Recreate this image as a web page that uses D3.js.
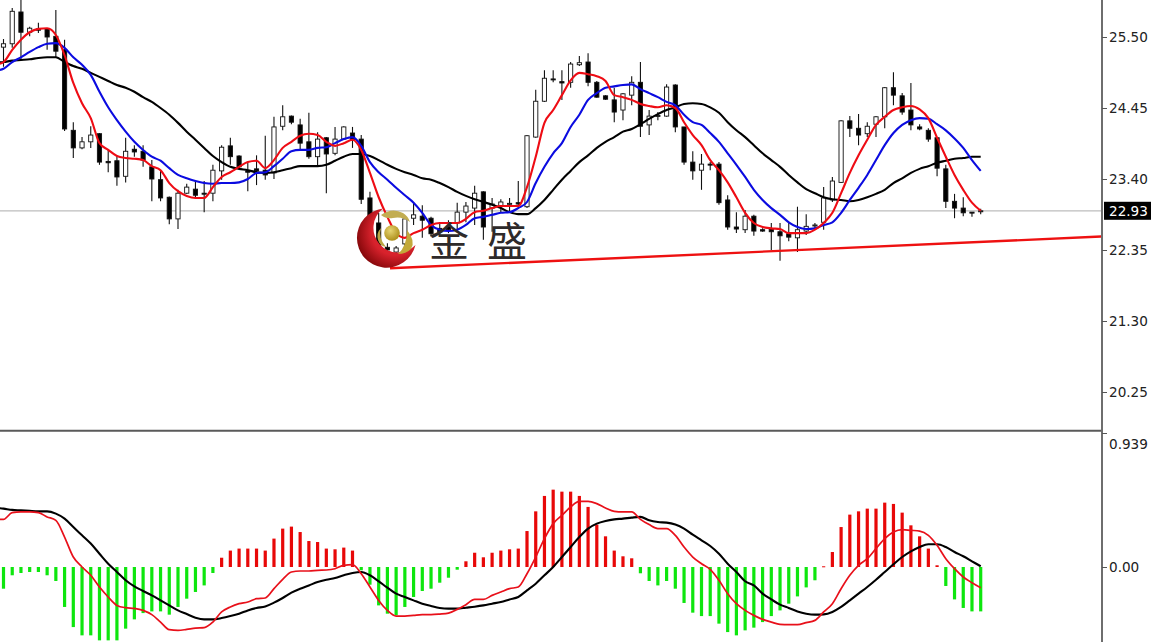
<!DOCTYPE html>
<html><head><meta charset="utf-8">
<style>html,body{margin:0;padding:0;background:#fff;overflow:hidden}svg{display:block}</style>
<script src="https://cdn.jsdelivr.net/npm/d3@7"></script></head>
<body><svg id="c" width="1151" height="642"></svg>
<script>
const opens=[25.35,25.40,25.87,25.57,25.62,25.62,25.51,25.31,24.12,23.86,23.95,24.07,23.66,23.67,23.44,23.84,23.81,23.58,23.39,23.13,22.81,23.19,23.25,23.19,23.19,23.52,23.89,23.74,23.52,23.55,23.53,23.49,24.18,24.33,24.20,23.95,23.73,24.01,23.78,23.99,24.08,23.99,23.12,22.75,22.39,22.32,22.44,22.82,22.85,22.82,22.67,22.70,22.75,22.91,22.97,23.21,22.97,23.00,23.03,23.05,22.99,24.02,24.55,24.88,24.84,24.83,25.09,25.13,24.83,24.63,24.57,24.42,24.64,24.83,24.20,24.34,24.33,24.79,24.17,23.65,23.53,23.62,23.62,23.09,22.69,22.65,22.85,22.65,22.66,22.62,22.59,22.53,22.63,22.71,22.76,23.09,23.35,24.26,24.15,24.07,24.21,24.32,24.75,24.63,24.42,24.17,24.12,24.01,23.55,23.07,22.97,22.91,22.93];
const closes=[25.40,25.88,25.57,25.63,25.60,25.50,25.29,24.14,23.86,23.95,24.05,23.65,23.64,23.43,23.81,23.80,23.68,23.40,23.12,22.81,23.19,23.28,23.16,23.18,23.53,23.87,23.73,23.58,23.50,23.52,23.46,24.17,24.32,24.24,23.93,23.73,23.99,23.77,23.99,24.17,23.98,23.10,22.67,22.41,22.35,22.38,22.81,22.87,22.79,22.59,22.62,22.65,22.91,23.00,23.19,22.69,23.03,23.06,23.04,23.03,24.04,24.55,24.89,24.87,24.82,25.10,25.12,24.83,24.61,24.58,24.39,24.66,24.83,24.18,24.33,24.34,24.76,24.17,23.65,23.52,23.62,23.61,23.05,22.69,22.66,22.85,22.63,22.63,22.62,22.56,22.54,22.65,22.70,22.72,23.12,23.37,24.26,24.15,24.05,24.18,24.32,24.75,24.64,24.39,24.20,24.14,23.99,23.56,23.07,22.97,22.90,22.90,22.93];
const highs=[25.47,25.93,26.12,25.65,25.71,25.63,25.90,25.46,24.24,24.02,24.18,24.08,23.83,23.75,24.01,23.90,23.90,23.68,23.52,23.14,23.24,23.33,23.37,23.37,23.61,23.90,24.01,23.75,23.64,23.75,24.04,24.32,24.49,24.34,24.29,24.38,24.09,24.02,24.17,24.18,24.17,24.05,23.21,22.90,22.45,22.41,22.85,23.05,23.01,22.84,22.76,22.79,23.05,23.06,23.30,23.22,23.12,23.10,23.12,23.37,24.05,24.72,25.01,25.01,25.01,25.13,25.22,25.26,24.85,24.64,24.75,24.67,24.92,25.13,24.42,24.39,24.80,24.80,24.17,23.81,23.77,23.65,23.65,23.16,22.91,22.94,22.87,22.67,22.75,22.75,22.76,22.99,22.88,22.75,23.28,23.43,24.27,24.33,24.36,24.24,24.33,24.76,24.98,24.67,24.82,24.21,24.15,24.02,23.61,23.18,23.13,22.91,22.96];
const lows=[25.06,25.34,25.16,25.51,25.56,25.31,25.20,24.11,23.71,23.84,23.86,23.61,23.50,23.30,23.35,23.73,23.58,23.07,23.07,22.73,22.66,23.18,23.13,22.91,23.07,23.39,23.61,23.56,23.22,23.31,23.39,23.40,24.12,24.21,23.84,23.70,23.59,23.19,23.75,23.98,23.86,23.03,22.62,22.35,22.30,22.29,22.38,22.72,22.53,22.55,22.56,22.60,22.62,22.76,22.72,22.50,22.62,22.91,22.91,22.97,22.97,24.01,24.54,24.83,24.57,24.75,25.07,24.77,24.60,24.57,24.24,24.27,24.49,24.02,24.05,24.27,24.32,24.09,23.61,23.39,23.24,23.53,23.02,22.65,22.60,22.60,22.56,22.62,22.35,22.19,22.48,22.32,22.57,22.65,22.65,23.06,23.34,24.02,23.90,24.02,24.02,24.15,24.49,24.35,24.12,24.12,23.95,23.44,22.97,22.82,22.85,22.84,22.88];

// moving averages; each starts one bar before the first candle
const maRed=[25.09,25.13,25.31,25.46,25.57,25.62,25.63,25.53,25.23,24.82,24.52,24.30,23.93,23.83,23.74,23.71,23.70,23.68,23.59,23.53,23.34,23.22,23.15,23.12,23.12,23.28,23.43,23.50,23.58,23.65,23.67,23.56,23.68,23.86,23.95,24.04,24.07,24.05,23.95,23.89,23.93,23.98,23.83,23.49,23.13,22.84,22.60,22.53,22.60,22.65,22.72,22.75,22.75,22.75,22.81,22.91,22.93,22.97,23.00,23.00,23.00,23.28,23.73,24.23,24.42,24.64,24.86,24.97,24.95,24.92,24.85,24.64,24.61,24.57,24.51,24.48,24.46,24.49,24.45,24.24,24.05,23.90,23.68,23.53,23.35,23.13,22.90,22.75,22.69,22.67,22.66,22.60,22.60,22.60,22.65,22.75,22.90,23.19,23.49,23.75,23.98,24.20,24.32,24.42,24.46,24.48,24.43,24.30,24.01,23.73,23.46,23.24,23.05,22.93];
const maBlue=[25.00,25.03,25.13,25.20,25.28,25.35,25.40,25.41,25.34,25.20,25.09,24.94,24.69,24.46,24.27,24.10,23.95,23.83,23.73,23.67,23.56,23.46,23.41,23.37,23.34,23.33,23.34,23.34,23.35,23.40,23.49,23.50,23.59,23.70,23.81,23.83,23.83,23.86,23.87,23.93,23.99,24.02,23.89,23.65,23.50,23.39,23.27,23.16,23.05,22.90,22.72,22.65,22.63,22.65,22.72,22.82,22.84,22.87,22.90,22.91,22.97,23.06,23.34,23.58,23.78,23.93,24.17,24.35,24.57,24.67,24.75,24.77,24.79,24.80,24.73,24.67,24.61,24.54,24.49,24.35,24.24,24.20,24.08,23.95,23.78,23.61,23.43,23.24,23.09,22.97,22.87,22.76,22.69,22.66,22.67,22.72,22.76,22.90,23.09,23.27,23.46,23.68,23.90,24.08,24.20,24.27,24.30,24.29,24.21,24.12,24.00,23.86,23.68,23.52];
const maBlack=[25.12,25.13,25.15,25.16,25.17,25.19,25.20,25.20,25.13,25.07,25.03,24.97,24.91,24.85,24.79,24.75,24.69,24.61,24.54,24.45,24.35,24.23,24.10,23.98,23.86,23.74,23.65,23.58,23.55,23.53,23.50,23.49,23.50,23.53,23.56,23.59,23.59,23.59,23.61,23.67,23.73,23.77,23.77,23.74,23.68,23.61,23.55,23.50,23.46,23.41,23.39,23.34,23.28,23.21,23.15,23.10,23.06,23.02,22.97,22.91,22.88,22.88,22.97,23.09,23.24,23.39,23.52,23.65,23.75,23.86,23.95,24.02,24.10,24.14,24.21,24.29,24.36,24.42,24.46,24.51,24.52,24.51,24.46,24.38,24.24,24.12,24.02,23.90,23.78,23.68,23.58,23.46,23.35,23.25,23.19,23.13,23.10,23.09,23.07,23.09,23.13,23.18,23.24,23.34,23.41,23.49,23.55,23.59,23.64,23.67,23.70,23.71,23.73,23.73];

// MACD pane
const histogram=[-.152,-.058,-.042,-.035,-.035,-.058,-.098,-.280,-.421,-.479,-.479,-.514,-.514,-.514,-.432,-.367,-.323,-.311,-.311,-.334,-.280,-.222,-.175,-.129,-.042,.065,.115,.129,.129,.129,.115,.199,.269,.283,.245,.182,.175,.129,.124,.136,.115,-.023,-.124,-.269,-.327,-.339,-.280,-.210,-.168,-.152,-.110,-.075,-.019,.040,.100,.068,.100,.115,.124,.129,.252,.390,.498,.542,.528,.528,.498,.421,.297,.215,.115,.075,.061,-.044,-.098,-.129,-.098,-.152,-.252,-.320,-.344,-.344,-.397,-.456,-.479,-.444,-.425,-.386,-.344,-.304,-.257,-.206,-.143,-.093,.005,.105,.280,.367,.390,.409,.409,.451,.442,.381,.292,.215,.129,.012,-.133,-.227,-.287,-.311,-.311];
const macdBlack=[.416,.409,.400,.397,.393,.390,.390,.374,.339,.280,.222,.164,.093,.023,-.035,-.093,-.136,-.168,-.199,-.234,-.269,-.304,-.330,-.355,-.367,-.367,-.358,-.344,-.327,-.304,-.287,-.276,-.250,-.217,-.180,-.152,-.129,-.105,-.089,-.077,-.058,-.042,-.035,-.058,-.100,-.145,-.187,-.210,-.234,-.257,-.273,-.287,-.292,-.292,-.285,-.278,-.269,-.257,-.245,-.227,-.210,-.164,-.117,-.058,0,.070,.140,.210,.269,.304,.323,.334,.339,.346,.351,.327,.315,.311,.297,.269,.227,.187,.147,.093,.023,-.035,-.100,-.129,-.187,-.227,-.264,-.287,-.311,-.327,-.334,-.332,-.315,-.280,-.234,-.187,-.140,-.089,-.035,.019,.070,.110,.140,.159,.159,.140,.105,.075,.040,.005];
const macdRed=[.334,.334,.381,.386,.386,.381,.351,.327,.210,.070,0,-.058,-.140,-.210,-.269,-.285,-.290,-.304,-.334,-.386,-.439,-.444,-.437,-.428,-.425,-.386,-.315,-.280,-.257,-.245,-.222,-.217,-.152,-.086,-.035,-.028,-.028,-.023,-.021,-.012,.012,.016,-.047,-.140,-.234,-.304,-.344,-.344,-.339,-.334,-.334,-.330,-.323,-.297,-.264,-.227,-.227,-.199,-.175,-.152,-.140,-.047,.070,.199,.304,.362,.421,.460,.460,.444,.414,.390,.386,.386,.334,.297,.269,.269,.222,.140,.070,.023,-.016,-.093,-.187,-.257,-.304,-.339,-.367,-.386,-.402,-.404,-.404,-.390,-.374,-.315,-.257,-.152,-.058,.012,.058,.129,.199,.245,.262,.257,.252,.222,.152,.058,-.012,-.070,-.110,-.145];

const priceTicks=[25.50,24.45,23.40,22.35,21.30,20.25];
const macdTicks=[0.939,0];
const lastPrice=22.93;
const trendBars=[44.3,126];
const trendPrices=[22.08,22.55];

const svg=d3.select("#c");
const x=d3.scaleLinear().domain([0,112]).range([3.5,980.7]);
const y=d3.scaleLinear().domain([25.5,20.25]).range([37,392]);
const ym=d3.scaleLinear().domain([0.939,0]).range([433,567]);
const W=1101;

const defs=svg.append("defs");
defs.append("clipPath").attr("id","pane").append("rect").attr("x",0).attr("y",0).attr("width",W).attr("height",429);
defs.append("clipPath").attr("id","mpane").append("rect").attr("x",0).attr("y",433).attr("width",W).attr("height",209);
const rg=defs.append("radialGradient").attr("id","moon").attr("gradientUnits","userSpaceOnUse").attr("cx",395).attr("cy",232).attr("r",42);
rg.append("stop").attr("offset","0.55").attr("stop-color","#d8222c");
rg.append("stop").attr("offset","1").attr("stop-color","#7a0406");
const bg=defs.append("radialGradient").attr("id","ball").attr("cx","0.4").attr("cy","0.35").attr("r","0.7");
bg.append("stop").attr("offset","0").attr("stop-color","#e6d472");
bg.append("stop").attr("offset","1").attr("stop-color","#a98a14");

const main=svg.append("g").attr("clip-path","url(#pane)");

// last price line
main.append("line").attr("x1",0).attr("x2",W).attr("y1",y(lastPrice)).attr("y2",y(lastPrice)).attr("stroke","#bdbdbd").attr("stroke-width",1.2);

// candles
const idx=d3.range(opens.length);
const candle=main.append("g").selectAll("g").data(idx).join("g");
candle.append("line").attr("x1",i=>x(i)).attr("x2",i=>x(i)).attr("y1",i=>y(highs[i])).attr("y2",i=>y(lows[i])).attr("stroke","#111").attr("stroke-width",1.1);
candle.append("rect").attr("x",i=>x(i)-2.1).attr("width",4.2)
  .attr("y",i=>y(Math.max(opens[i],closes[i])))
  .attr("height",i=>Math.max(1,Math.abs(y(opens[i])-y(closes[i]))))
  .attr("fill",i=>closes[i]>=opens[i]?"#fff":"#000").attr("stroke","#111").attr("stroke-width",0.9);

// moving averages
const line=(scale)=>d3.line().x((d,i)=>x(i-1)).y(d=>scale(d)).curve(d3.curveMonotoneX);
main.append("path").attr("d",line(y)(maBlack)).attr("fill","none").attr("stroke","#000").attr("stroke-width",2.1);
main.append("path").attr("d",line(y)(maBlue)).attr("fill","none").attr("stroke","#0b0be0").attr("stroke-width",2.1);
main.append("path").attr("d",line(y)(maRed)).attr("fill","none").attr("stroke","#ee0c14").attr("stroke-width",2.1);

// trend line
main.append("line").attr("x1",x(trendBars[0])).attr("x2",x(trendBars[1])).attr("y1",y(trendPrices[0])).attr("y2",y(trendPrices[1])).attr("stroke","#ee1111").attr("stroke-width",2.4);

// watermark
const logo=svg.append("g");
logo.append("path").attr("fill","url(#moon)").attr("d","M383,208.5 A29.7,29.7 0 1 0 415.5,245 A24.5,24.5 0 1 1 383,208.5Z");
logo.append("path").attr("fill","#c2ad52").attr("d","M381,215 Q392,207 403,213 Q408,216 410,222 Q402,216 393,218 Q386,219 381,215Z");
logo.append("path").attr("fill","#c2a93a").attr("d","M407,230 Q416,241 411,249 Q406,254 398,254 Q407,246 407,230Z");
logo.append("path").attr("fill","#b9a545").attr("d","M381,228 Q378,238 386,247 Q380,246 378,240 Q376,233 381,228Z");
logo.append("circle").attr("cx",392).attr("cy",233).attr("r",7.8).attr("fill","url(#ball)");
logo.append("text").attr("x",449).attr("y",256).attr("text-anchor","middle").attr("font-family","'Noto Sans CJK SC'").attr("font-size",40).attr("fill","#2e2a2a").text("金");
logo.append("text").attr("x",507).attr("y",256).attr("text-anchor","middle").attr("font-family","'Noto Sans CJK SC'").attr("font-size",40).attr("fill","#2e2a2a").text("盛");

// MACD pane
const sub=svg.append("g").attr("clip-path","url(#mpane)");
sub.append("g").selectAll("rect").data(histogram).join("rect")
  .attr("x",(d,i)=>x(i)-1.6).attr("width",3.2)
  .attr("y",d=>d>=0?ym(d):ym(0)).attr("height",d=>Math.max(1,Math.abs(ym(d)-ym(0))))
  .attr("fill",d=>d>=0?"#e80808":"#0ee60e");
sub.append("path").attr("d",line(ym)(macdBlack)).attr("fill","none").attr("stroke","#000").attr("stroke-width",2.1);
sub.append("path").attr("d",line(ym)(macdRed)).attr("fill","none").attr("stroke","#e8101a").attr("stroke-width",1.7);

// frame
svg.append("line").attr("x1",0).attr("x2",1103).attr("y1",430.7).attr("y2",430.7).attr("stroke","#5a5a5a").attr("stroke-width",2);
svg.append("line").attr("x1",1102).attr("x2",1102).attr("y1",0).attr("y2",642).attr("stroke","#6e6e6e").attr("stroke-width",2);

// axes
const styleAxis=g=>{g.select(".domain").remove();g.selectAll("line").attr("stroke","#555");g.selectAll("text").attr("font-family","'DejaVu Sans'").attr("font-size",13.6).attr("fill","#222");};
svg.append("g").attr("transform","translate(1102,0)").call(d3.axisRight(y).tickValues(priceTicks).tickSize(5).tickPadding(2).tickFormat(d3.format(".2f"))).call(styleAxis);
svg.append("g").attr("transform","translate(1102,0)").call(d3.axisRight(ym).tickValues(macdTicks).tickSize(5).tickPadding(2).tickFormat(d=>d===0?"0.00":d3.format(".3f")(d))).call(styleAxis)
  .selectAll(".tick").filter(d=>d!==0).select("text").attr("dy","1.15em");

// last price badge
svg.append("rect").attr("x",1104).attr("y",y(lastPrice)-9).attr("width",47).attr("height",18).attr("fill","#000");
svg.append("text").attr("x",1109).attr("y",y(lastPrice)).attr("dy","0.35em").attr("font-family","'DejaVu Sans'").attr("font-size",13.6).attr("fill","#fff").text(lastPrice.toFixed(2));
</script></body></html>
